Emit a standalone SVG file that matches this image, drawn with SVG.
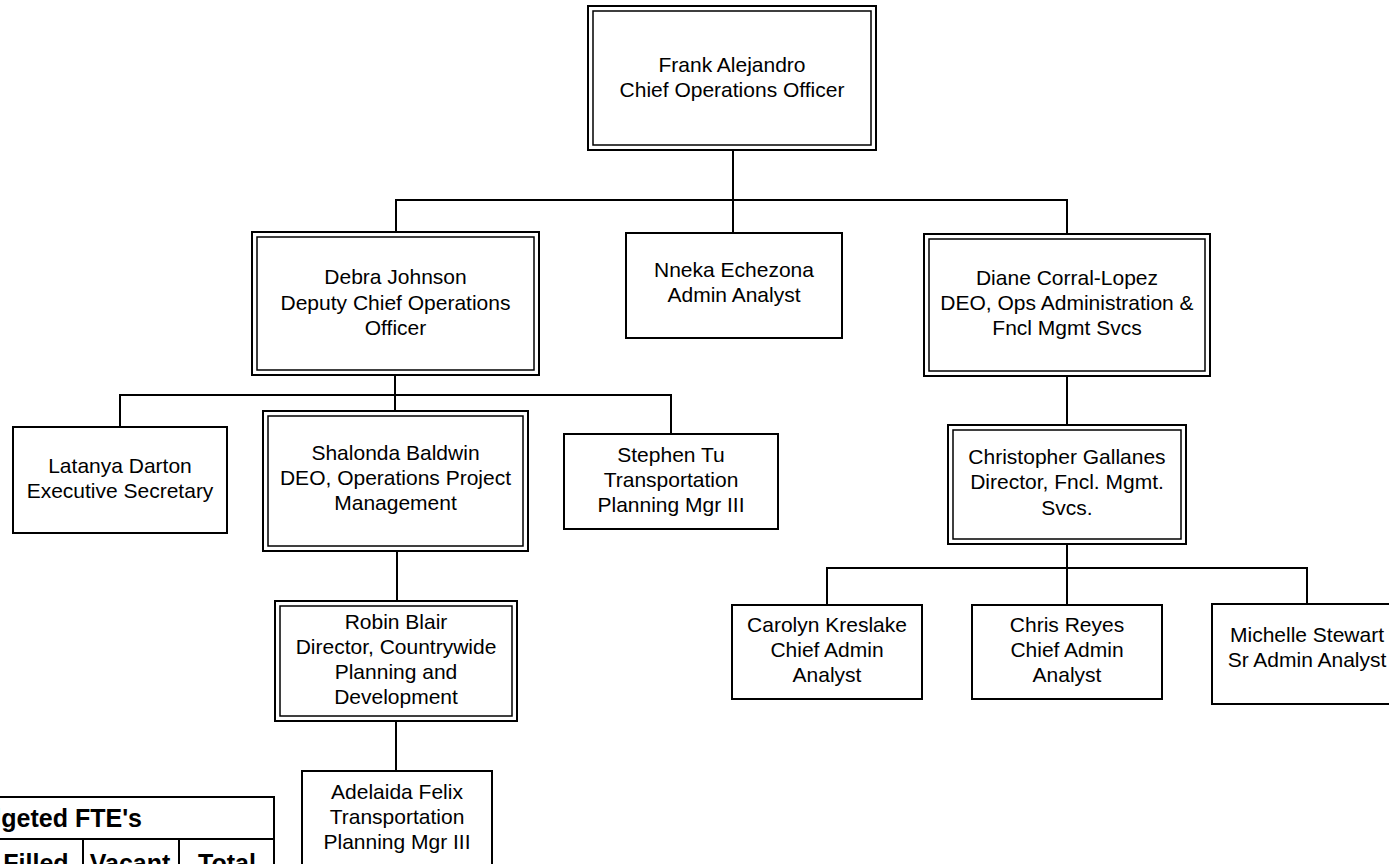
<svg xmlns="http://www.w3.org/2000/svg" width="1389" height="864" viewBox="0 0 1389 864">
<style>
  .o{fill:#fff;stroke:#000;stroke-width:2}
  .i{fill:none;stroke:#000;stroke-width:1.5}
  .s{fill:#fff;stroke:#000;stroke-width:2}
  .c{fill:none;stroke:#000;stroke-width:2}
  text{font-family:"Liberation Sans",Arial,sans-serif;font-size:21px;fill:#000;text-anchor:middle}
  .b{font-weight:bold;font-size:25px}
</style>
<rect width="1389" height="864" fill="#fff"/>
<g id="connectors">
  <path class="c" d="M733,151 V200" stroke-width="2.6"/>
  <path class="c" d="M396,232 V200 H1067 V233 M733,200 V232"/>
  <path class="c" d="M395,376 V410 M120,426 V395 H671 V433"/>
  <path class="c" d="M397,552 V600"/>
  <path class="c" d="M396,722 V770"/>
  <path class="c" d="M1067,377 V424"/>
  <path class="c" d="M1067,545 V604 M827,604 V568 H1307 V603"/>
</g>
<g id="frank">
  <rect class="o" x="588" y="6" width="288" height="144"/>
  <rect class="i" x="593" y="11" width="278" height="134"/>
  <text x="732" y="72">Frank Alejandro</text>
  <text x="732" y="97">Chief Operations Officer</text>
</g>
<g id="debra">
  <rect class="o" x="252" y="232" width="287" height="143"/>
  <rect class="i" x="257" y="237" width="277" height="133"/>
  <text x="395.5" y="284">Debra Johnson</text>
  <text x="395.5" y="310">Deputy Chief Operations</text>
  <text x="395.5" y="335">Officer</text>
</g>
<g id="nneka">
  <rect class="s" x="626" y="233" width="216" height="105"/>
  <text x="734" y="277">Nneka Echezona</text>
  <text x="734" y="302">Admin Analyst</text>
</g>
<g id="diane">
  <rect class="o" x="924" y="234" width="286" height="142"/>
  <rect class="i" x="929" y="239" width="276" height="132"/>
  <text x="1067" y="285">Diane Corral-Lopez</text>
  <text x="1067" y="310">DEO, Ops Administration &amp;</text>
  <text x="1067" y="335">Fncl Mgmt Svcs</text>
</g>
<g id="latanya">
  <rect class="s" x="13" y="427" width="214" height="106"/>
  <text x="120" y="473">Latanya Darton</text>
  <text x="120" y="498">Executive Secretary</text>
</g>
<g id="shalonda">
  <rect class="o" x="263" y="411" width="265" height="140"/>
  <rect class="i" x="268" y="416" width="255" height="130"/>
  <text x="395.5" y="460">Shalonda Baldwin</text>
  <text x="395.5" y="485">DEO, Operations Project</text>
  <text x="395.5" y="510">Management</text>
</g>
<g id="stephen">
  <rect class="s" x="564" y="434" width="214" height="95"/>
  <text x="671" y="462">Stephen Tu</text>
  <text x="671" y="487">Transportation</text>
  <text x="671" y="512">Planning Mgr III</text>
</g>
<g id="robin">
  <rect class="o" x="275" y="601" width="242" height="120"/>
  <rect class="i" x="280" y="606" width="232" height="110"/>
  <text x="396" y="629">Robin Blair</text>
  <text x="396" y="654">Director, Countrywide</text>
  <text x="396" y="679">Planning and</text>
  <text x="396" y="704">Development</text>
</g>
<g id="adelaida">
  <rect class="s" x="302" y="771" width="190" height="110"/>
  <text x="397" y="799">Adelaida Felix</text>
  <text x="397" y="824">Transportation</text>
  <text x="397" y="849">Planning Mgr III</text>
</g>
<g id="christopher">
  <rect class="o" x="948" y="425" width="238" height="119"/>
  <rect class="i" x="953" y="430" width="228" height="109"/>
  <text x="1067" y="464">Christopher Gallanes</text>
  <text x="1067" y="489">Director, Fncl. Mgmt.</text>
  <text x="1067" y="515">Svcs.</text>
</g>
<g id="carolyn">
  <rect class="s" x="732" y="605" width="190" height="94"/>
  <text x="827" y="632">Carolyn Kreslake</text>
  <text x="827" y="657">Chief Admin</text>
  <text x="827" y="682">Analyst</text>
</g>
<g id="chris">
  <rect class="s" x="972" y="605" width="190" height="94"/>
  <text x="1067" y="632">Chris Reyes</text>
  <text x="1067" y="657">Chief Admin</text>
  <text x="1067" y="682">Analyst</text>
</g>
<g id="michelle">
  <rect class="s" x="1212" y="604" width="190" height="100"/>
  <text x="1307" y="642">Michelle Stewart</text>
  <text x="1307" y="667">Sr Admin Analyst</text>
</g>
<g id="fte-table">
  <path class="c" d="M-5,797 H274 V870 M-5,839 H274 M83,839 V870 M179,839 V870"/>
  <text class="b" x="142" y="827" style="text-anchor:end">Budgeted FTE's</text>
  <text class="b" x="36" y="872">Filled</text>
  <text class="b" x="130" y="872">Vacant</text>
  <text class="b" x="227" y="872">Total</text>
</g>
</svg>
